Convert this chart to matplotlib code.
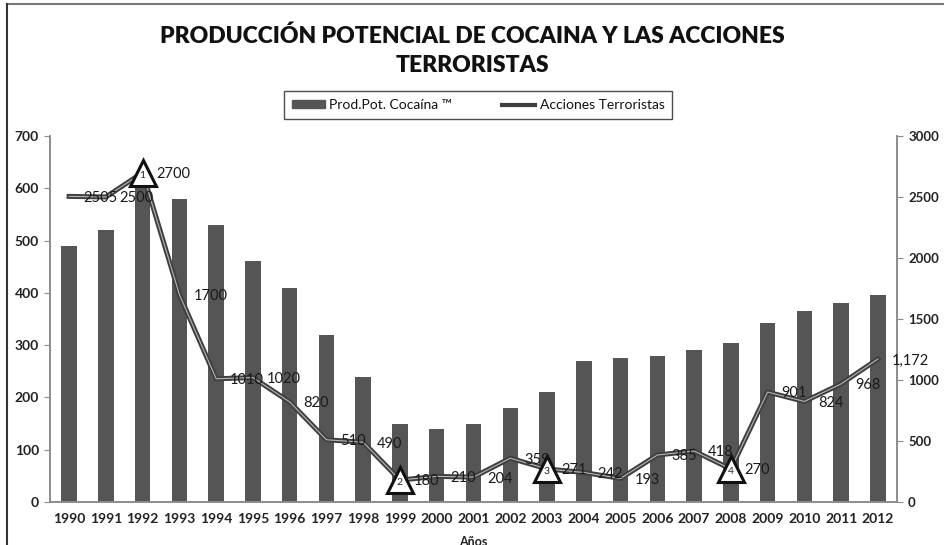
import matplotlib
matplotlib.use("Agg")
import matplotlib.pyplot as plt
import matplotlib.lines as mlines

plt.rcParams['font.family'] = ['Lato', 'DejaVu Sans']

# datos
years = [str(y) for y in range(1990, 2013)]
cocaina = [490, 520, 600, 580, 530, 460, 410, 320, 240, 150, 140, 150,
           180, 210, 270, 275, 280, 290, 305, 343, 365, 380, 395]
acciones = [2505, 2500, 2700, 1700, 1010, 1020, 820, 510, 490, 180, 210, 204,
            359, 271, 242, 193, 385, 418, 270, 901, 824, 968, 1172]
acc_labels = ['2505', '2500', '2700', '1700', '1010', '1020', '820', '510', '490',
              '180', '210', '204', '359', '271', '242', '193', '385', '418', '270',
              '901', '824', '968', '1,172']
hitos = {2: '1', 9: '2', 13: '3', 18: '4'}   # indice -> numero del triangulo

bar_col = '#555555'
line_col = '#3f3f3f'
axis_col = '#8c8c8c'

fig = plt.figure(figsize=(9.45, 5.45), dpi=100)
ax = fig.add_axes([50/945, 43/545, 847/945, 366/545])
ax2 = ax.twinx()

x = list(range(len(years)))
ax.bar(x, cocaina, width=0.42, color=bar_col, zorder=2)
ax.set_xlim(-0.52, 22.52)
ax.set_ylim(0, 700)
ax.set_yticks(range(0, 701, 100))
ax.set_xticks(x)
ax.set_xticklabels(years, fontsize=10, fontweight='bold', color='#222222')
ax.tick_params(axis='x', length=0, pad=8)
ax.tick_params(axis='y', labelsize=10, colors=axis_col, labelcolor='#222222',
               length=4, pad=4)
for t in ax.get_yticklabels():
    t.set_fontweight('bold')
ax.set_xlabel('Años', fontsize=9, fontweight='bold', labelpad=0, color='#222222')
ax.xaxis.set_label_coords(0.5, -0.092)

for a in (ax, ax2):
    a.spines['top'].set_visible(False)
    for s in ('left', 'right', 'bottom'):
        a.spines[s].set_color(axis_col)
        a.spines[s].set_linewidth(1.2)

ax2.set_ylim(0, 3000)
ax2.set_yticks(range(0, 3001, 500))
ax2.tick_params(axis='y', labelsize=9.5, colors=axis_col, labelcolor='#222222',
                length=4, pad=4)
for t in ax2.get_yticklabels():
    t.set_fontweight('bold')

# linea doble (oscura con centro claro)
ax2.plot(x, acciones, color=line_col, lw=3.6, zorder=3, solid_joinstyle='miter')
ax2.plot(x, acciones, color='#b5b5b5', lw=0.8, zorder=4)

for i, (v, lab) in enumerate(zip(acciones, acc_labels)):
    ax2.annotate(lab, (i, v), xytext=(10, -1), textcoords='offset points',
                 fontsize=10.5, color='#1a1a1a', va='center', ha='left', zorder=6)

for i, num in hitos.items():
    ax2.plot(i, acciones[i], marker='^', ms=19, mfc='white', mec='#111111',
             mew=2.2, zorder=7, linestyle='none')
    ax2.text(i, acciones[i] - 20, num, fontsize=7.5, ha='center', va='center',
             color='#222222', zorder=8)

# titulo
fig.text(0.5, 1 - 36/545, 'PRODUCCIÓN POTENCIAL DE COCAINA Y LAS ACCIONES',
         ha='center', va='center', fontsize=16.5, fontweight='heavy', color='#111111')
fig.text(0.5, 1 - 66/545, 'TERRORISTAS',
         ha='center', va='center', fontsize=16.5, fontweight='heavy', color='#111111')

# leyenda
h_bar = plt.Rectangle((0, 0), 1, 1, color=bar_col)
h_line = mlines.Line2D([], [], color=line_col, lw=3)
leg = fig.legend([h_bar, h_line], ['Prod.Pot. Cocaína ™', 'Acciones Terroristas'],
                 loc='center', bbox_to_anchor=(478/945, 1 - 105/545), ncol=2,
                 fontsize=10, frameon=True, fancybox=False, edgecolor='#222222',
                 handlelength=2.4, handleheight=0.5, columnspacing=3.6,
                 borderpad=0.55, handletextpad=0.3, borderaxespad=0)
leg.get_frame().set_linewidth(1.0)
for t in leg.get_texts():
    t.set_color('#111111')

# marco
fig.add_artist(mlines.Line2D([7/945, 1], [1 - 4/545, 1 - 4/545],
                             color='#777777', lw=1.5, transform=fig.transFigure))
fig.add_artist(mlines.Line2D([7/945, 7/945], [0, 1 - 4/545],
                             color='#333333', lw=1.5, transform=fig.transFigure))

fig.savefig('out.png', dpi=100)
